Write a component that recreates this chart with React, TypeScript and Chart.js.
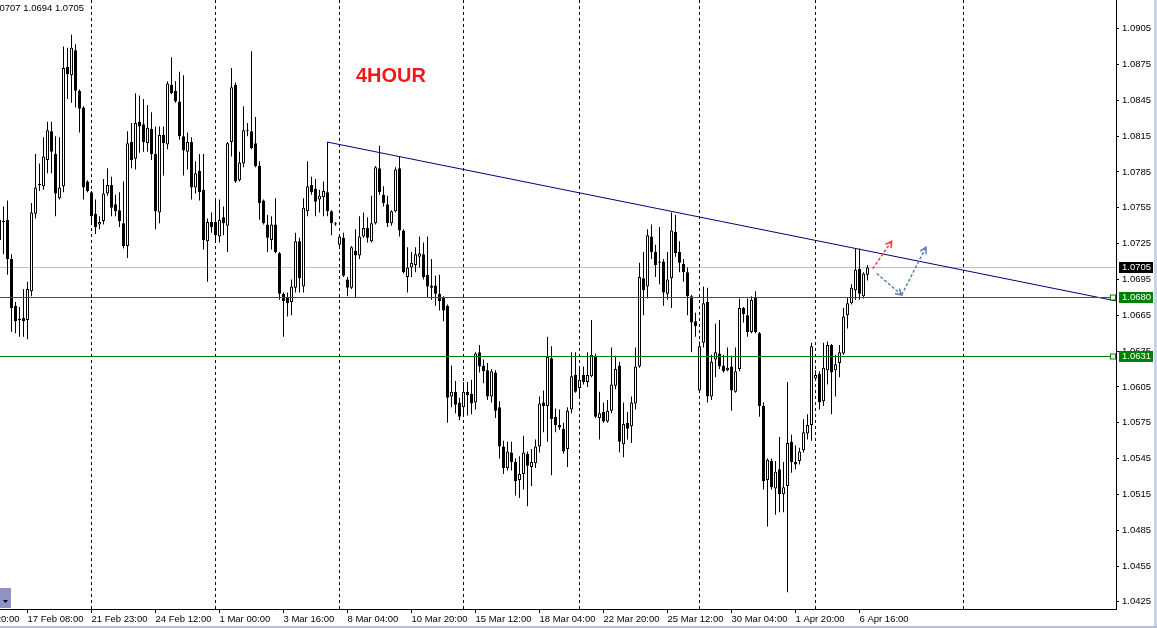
import React, { useEffect, useRef } from "react";
import { Chart, registerables } from "chart.js";
Chart.register(...registerables);

// ---- data (EURUSD H4) ----
const opens = [
  1.0745,1.0743,1.0745,1.0712,1.0673,1.0661,1.0663,1.0661,1.0685,1.0750,
  1.0774,1.0773,1.0795,1.0819,1.0800,1.0763,1.0773,1.0873,1.0866,1.0887,
  1.0853,1.0839,1.0777,1.0768,1.0750,1.0741,1.0744,1.0767,1.0774,1.0758,
  1.0753,1.0742,1.0723,1.0810,1.0796,1.0827,1.0825,1.0809,1.0821,1.0800,
  1.0751,1.0816,1.0808,1.0858,1.0853,1.0844,1.0815,1.0802,1.0810,1.0772,
  1.0786,1.0770,1.0727,1.0743,1.0743,1.0731,1.0747,1.0740,1.0810,1.0858,
  1.0778,1.0792,1.0820,1.0819,1.0809,1.0790,1.0761,1.0741,1.0728,1.0741,
  1.0717,1.0683,1.0680,1.0676,1.0688,1.0727,1.0689,1.0752,1.0774,1.0771,
  1.0762,1.0764,1.0768,1.0752,1.0741,1.0724,1.0730,1.0695,1.0688,1.0719,
  1.0715,1.0731,1.0738,1.0727,1.0742,1.0788,1.0766,1.0758,1.0742,1.0752,
  1.0788,1.0736,1.0697,1.0705,1.0707,1.0714,1.0716,1.0699,1.0690,1.0690,
  1.0683,1.0680,1.0673,1.0597,1.0601,1.0592,1.0588,1.0601,1.0599,1.0592,
  1.0634,1.0623,1.0619,1.0597,1.0617,1.0588,1.0555,1.0537,1.0550,1.0542,
  1.0527,1.0532,1.0549,1.0538,1.0541,1.0555,1.0592,1.0589,1.0629,1.0580,
  1.0573,1.0570,1.0553,1.0586,1.0615,1.0604,1.0615,1.0609,1.0614,1.0631,
  1.0579,1.0584,1.0576,1.0585,1.0606,1.0623,1.0557,1.0575,1.0572,1.0591,
  1.0622,1.0696,1.0689,1.0731,1.0718,1.0710,1.0710,1.0683,1.0696,1.0735,
  1.0718,1.0708,1.0701,1.0681,1.0660,1.0602,1.0642,1.0676,1.0597,1.0628,
  1.0633,1.0623,1.0619,1.0622,1.0601,1.0620,1.0671,1.0665,1.0651,1.0680,
  1.0650,1.0589,1.0527,1.0543,1.0520,1.0536,1.0515,1.0522,1.0559,1.0542,
  1.0543,1.0552,1.0566,1.0573,1.0612,1.0616,1.0593,1.0619,1.0640,1.0619,
  1.0625,1.0633,1.0665,1.0675,1.0686,1.0704,1.0681,1.0699,
];
const highs = [
  1.0760,1.0756,1.0761,1.0716,1.0676,1.0672,1.0687,1.0693,1.0759,1.0800,
  1.0792,1.0814,1.0827,1.0827,1.0815,1.0814,1.0890,1.0889,1.0900,1.0892,
  1.0854,1.0840,1.0778,1.0769,1.0762,1.0748,1.0779,1.0788,1.0781,1.0766,
  1.0768,1.0777,1.0819,1.0826,1.0851,1.0849,1.0846,1.0841,1.0835,1.0823,
  1.0823,1.0823,1.0861,1.0881,1.0861,1.0869,1.0866,1.0818,1.0814,1.0794,
  1.0800,1.0800,1.0746,1.0751,1.0763,1.0762,1.0756,1.0810,1.0872,1.0860,
  1.0802,1.0840,1.0826,1.0886,1.0831,1.0794,1.0762,1.0749,1.0748,1.0763,
  1.0718,1.0684,1.0684,1.0695,1.0734,1.0730,1.0763,1.0794,1.0781,1.0779,
  1.0770,1.0777,1.0810,1.0753,1.0743,1.0732,1.0734,1.0697,1.0723,1.0737,
  1.0748,1.0751,1.0747,1.0765,1.0790,1.0807,1.0773,1.0765,1.0753,1.0789,
  1.0798,1.0737,1.0722,1.0718,1.0722,1.0731,1.0726,1.0731,1.0712,1.0698,
  1.0699,1.0681,1.0674,1.0623,1.0610,1.0596,1.0609,1.0609,1.0611,1.0634,
  1.0640,1.0628,1.0625,1.0620,1.0619,1.0593,1.0560,1.0559,1.0559,1.0545,
  1.0547,1.0564,1.0551,1.0553,1.0561,1.0597,1.0602,1.0647,1.0639,1.0587,
  1.0586,1.0575,1.0588,1.0634,1.0634,1.0622,1.0622,1.0634,1.0661,1.0633,
  1.0601,1.0592,1.0594,1.0638,1.0631,1.0626,1.0592,1.0584,1.0597,1.0638,
  1.0709,1.0718,1.0737,1.0741,1.0724,1.0739,1.0712,1.0718,1.0751,1.0749,
  1.0727,1.0712,1.0705,1.0682,1.0667,1.0643,1.0689,1.0688,1.0632,1.0658,
  1.0661,1.0632,1.0638,1.0631,1.0638,1.0679,1.0672,1.0679,1.0681,1.0685,
  1.0651,1.0592,1.0545,1.0545,1.0543,1.0563,1.0542,1.0609,1.0565,1.0556,
  1.0554,1.0578,1.0582,1.0642,1.0619,1.0618,1.0642,1.0643,1.0641,1.0632,
  1.0640,1.0671,1.0680,1.0691,1.0721,1.0721,1.0701,1.0707,
];
const lows = [
  1.0716,1.0716,1.0699,1.0651,1.0650,1.0647,1.0647,1.0645,1.0681,1.0746,
  1.0769,1.0770,1.0784,1.0784,1.0748,1.0762,1.0768,1.0846,1.0843,1.0839,
  1.0818,1.0762,1.0768,1.0743,1.0733,1.0737,1.0741,1.0765,1.0748,1.0748,
  1.0739,1.0721,1.0713,1.0788,1.0787,1.0801,1.0802,1.0802,1.0795,1.0737,
  1.0742,1.0782,1.0804,1.0850,1.0843,1.0812,1.0782,1.0787,1.0762,1.0767,
  1.0761,1.0720,1.0693,1.0734,1.0727,1.0726,1.0732,1.0718,1.0798,1.0776,
  1.0777,1.0789,1.0815,1.0804,1.0789,1.0745,1.0741,1.0718,1.0720,1.0717,
  1.0678,1.0647,1.0664,1.0665,1.0684,1.0684,1.0684,1.0748,1.0766,1.0748,
  1.0751,1.0748,1.0748,1.0732,1.0740,1.0722,1.0697,1.0681,1.0687,1.0680,
  1.0712,1.0730,1.0726,1.0726,1.0741,1.0766,1.0756,1.0739,1.0740,1.0751,
  1.0731,1.0700,1.0684,1.0697,1.0701,1.0705,1.0695,1.0680,1.0678,1.0673,
  1.0669,1.0660,1.0575,1.0588,1.0583,1.0577,1.0580,1.0581,1.0582,1.0586,
  1.0617,1.0608,1.0594,1.0592,1.0579,1.0545,1.0532,1.0535,1.0535,1.0514,
  1.0512,1.0519,1.0505,1.0522,1.0537,1.0550,1.0567,1.0559,1.0531,1.0567,
  1.0569,1.0549,1.0538,1.0583,1.0600,1.0597,1.0607,1.0605,1.0613,1.0579,
  1.0561,1.0575,1.0575,1.0583,1.0603,1.0550,1.0546,1.0561,1.0558,1.0586,
  1.0621,1.0665,1.0679,1.0712,1.0697,1.0691,1.0673,1.0678,1.0671,1.0714,
  1.0701,1.0693,1.0665,1.0634,1.0647,1.0601,1.0638,1.0592,1.0594,1.0613,
  1.0620,1.0617,1.0618,1.0585,1.0600,1.0618,1.0659,1.0647,1.0650,1.0650,
  1.0580,1.0519,1.0488,1.0519,1.0498,1.0500,1.0500,1.0433,1.0533,1.0536,
  1.0540,1.0550,1.0561,1.0560,1.0610,1.0586,1.0589,1.0607,1.0582,1.0597,
  1.0613,1.0632,1.0654,1.0674,1.0678,1.0678,1.0679,1.0694,
];
const closes = [
  1.0728,1.0744,1.0712,1.0671,1.0660,1.0662,1.0660,1.0687,1.0751,1.0772,
  1.0775,1.0798,1.0820,1.0802,1.0767,1.0772,1.0872,1.0867,1.0889,1.0853,
  1.0838,1.0772,1.0769,1.0748,1.0739,1.0743,1.0767,1.0774,1.0755,1.0752,
  1.0744,1.0723,1.0809,1.0795,1.0826,1.0823,1.0810,1.0822,1.0800,1.0752,
  1.0816,1.0809,1.0859,1.0851,1.0844,1.0815,1.0803,1.0810,1.0772,1.0784,
  1.0768,1.0728,1.0743,1.0739,1.0732,1.0745,1.0742,1.0809,1.0856,1.0777,
  1.0793,1.0820,1.0819,1.0805,1.0790,1.0759,1.0742,1.0730,1.0741,1.0718,
  1.0683,1.0677,1.0675,1.0689,1.0727,1.0696,1.0755,1.0773,1.0768,1.0760,
  1.0765,1.0769,1.0752,1.0742,1.0742,1.0731,1.0698,1.0688,1.0722,1.0715,
  1.0731,1.0738,1.0730,1.0742,1.0789,1.0768,1.0759,1.0742,1.0752,1.0787,
  1.0736,1.0701,1.0705,1.0709,1.0716,1.0717,1.0697,1.0689,1.0688,1.0683,
  1.0677,1.0669,1.0596,1.0601,1.0590,1.0580,1.0601,1.0598,1.0591,1.0633,
  1.0622,1.0618,1.0597,1.0618,1.0585,1.0555,1.0537,1.0551,1.0542,1.0526,
  1.0532,1.0550,1.0539,1.0542,1.0555,1.0591,1.0589,1.0630,1.0578,1.0573,
  1.0571,1.0551,1.0585,1.0614,1.0601,1.0611,1.0609,1.0615,1.0632,1.0580,
  1.0583,1.0576,1.0585,1.0607,1.0620,1.0559,1.0574,1.0570,1.0592,1.0622,
  1.0697,1.0686,1.0732,1.0718,1.0707,1.0709,1.0684,1.0695,1.0736,1.0717,
  1.0709,1.0701,1.0681,1.0659,1.0656,1.0639,1.0675,1.0597,1.0626,1.0634,
  1.0622,1.0618,1.0621,1.0602,1.0618,1.0671,1.0666,1.0651,1.0678,1.0651,
  1.0589,1.0526,1.0544,1.0521,1.0534,1.0515,1.0521,1.0558,1.0542,1.0540,
  1.0551,1.0567,1.0573,1.0639,1.0615,1.0592,1.0621,1.0640,1.0617,1.0624,
  1.0634,1.0664,1.0675,1.0688,1.0703,1.0683,1.0700,1.0705,
];

const timeTickIdx = [7, 23, 39, 55, 71, 87, 103, 119, 135, 151, 167, 183, 199, 215];
const timeTickLabels = [
  "17 Feb 08:00", "21 Feb 23:00", "24 Feb 12:00", "1 Mar 00:00", "3 Mar 16:00",
  "8 Mar 04:00", "10 Mar 20:00", "15 Mar 12:00", "18 Mar 04:00", "22 Mar 20:00",
  "25 Mar 12:00", "30 Mar 04:00", "1 Apr 20:00", "6 Apr 16:00",
];
const partialTickIdx = -9;
const partialTickLabel = "15 Feb 20:00";
const priceTicks = [
  1.0425, 1.0455, 1.0485, 1.0515, 1.0545, 1.0575, 1.0605, 1.0635, 1.0665,
  1.0695, 1.0725, 1.0755, 1.0785, 1.0815, 1.0845, 1.0875, 1.0905,
];
const separatorIdx = [23, 54, 85, 116, 145, 175, 204, 241];
const bidPrice = 1.0705;
const levelPrices = [1.068, 1.0631];
const trendPoints = [{ x: 82, y: 1.081 }, { x: 279.1, y: 1.0677 }];
const redArrow = [[218.3, 1.0704], [223.05, 1.0727]];
const blueArrow = [[219.3, 1.07], [225.55, 1.0682], [231.6, 1.0722]];
const lastBarText = "1.0707 1.0694 1.0705";
const chartTitle = "4HOUR";

const FONT = "'Liberation Sans', Arial, sans-serif";
Chart.defaults.font.family = FONT;

function drawArrow(ctx: CanvasRenderingContext2D, pts: number[][], color: string) {
  ctx.save();
  ctx.strokeStyle = color;
  ctx.lineWidth = 1.5;
  for (let i = 0; i < pts.length - 1; i++) {
    const [x1, y1] = pts[i];
    const [x2, y2] = pts[i + 1];
    ctx.setLineDash([3, 2]);
    ctx.beginPath();
    ctx.moveTo(x1, y1);
    ctx.lineTo(x2, y2);
    ctx.stroke();
    ctx.setLineDash([]);
    const ang = Math.atan2(y2 - y1, x2 - x1);
    const len = 7;
    ctx.beginPath();
    ctx.moveTo(x2 - len * Math.cos(ang - 0.5), y2 - len * Math.sin(ang - 0.5));
    ctx.lineTo(x2, y2);
    ctx.lineTo(x2 - len * Math.cos(ang + 0.5), y2 - len * Math.sin(ang + 0.5));
    ctx.stroke();
  }
  ctx.restore();
}

const overlay = {
  id: "mtOverlay",
  beforeDatasetsDraw(chart: any) {
    const { ctx, chartArea: a, scales } = chart;
    const x = scales.x, y = scales.y;
    ctx.save();
    const yb = Math.round(y.getPixelForValue(bidPrice)) + 0.5;
    ctx.strokeStyle = "#c0c0c0";
    ctx.lineWidth = 1;
    ctx.beginPath();
    ctx.moveTo(a.left, yb);
    ctx.lineTo(a.right, yb);
    ctx.stroke();
    ctx.strokeStyle = "#000";
    ctx.setLineDash([3, 3]);
    separatorIdx.forEach((k) => {
      const px = Math.round(x.getPixelForValue(k) - 0.5) + 0.5;
      ctx.beginPath();
      ctx.moveTo(px, a.top);
      ctx.lineTo(px, a.bottom);
      ctx.stroke();
    });
    ctx.restore();
  },
  afterDatasetsDraw(chart: any) {
    const { ctx, chartArea: a, scales } = chart;
    const x = scales.x, y = scales.y;
    ctx.save();
    ctx.strokeStyle = "#008000";
    ctx.lineWidth = 1;
    levelPrices.forEach((p) => {
      const py = Math.round(y.getPixelForValue(p)) + 0.5;
      ctx.beginPath();
      ctx.moveTo(a.left, py);
      ctx.lineTo(a.right, py);
      ctx.stroke();
      ctx.fillStyle = "#fff";
      ctx.fillRect(a.right - 5, py - 2.5, 4, 5);
      ctx.strokeRect(a.right - 5.5, py - 2.5, 5, 5);
    });
    const toPx = (pts: number[][]) => pts.map(([k, p]) => [x.getPixelForValue(k), y.getPixelForValue(p)]);
    drawArrow(ctx, toPx(redArrow), "#f03c3c");
    drawArrow(ctx, toPx(blueArrow), "#5a7fb6");
    ctx.fillStyle = "#f21818";
    ctx.font = `bold 20px ${FONT}`;
    ctx.textAlign = "left";
    ctx.textBaseline = "alphabetic";
    ctx.fillText(chartTitle, 356, 82);
    ctx.fillStyle = "#000";
    ctx.font = `9.5px ${FONT}`;
    ctx.textAlign = "right";
    ctx.fillText(lastBarText, 84, 11);
    ctx.restore();
  },
  afterDraw(chart: any) {
    const { ctx, chartArea: a, scales } = chart;
    const x = scales.x, y = scales.y;
    ctx.save();
    ctx.font = `9.5px ${FONT}`;
    ctx.textBaseline = "middle";
    ctx.textAlign = "left";
    const box = (p: number, bg: string) => {
      const py = Math.round(y.getPixelForValue(p));
      ctx.fillStyle = bg;
      ctx.fillRect(a.right + 3, py - 5, 34, 11);
      ctx.fillStyle = "#fff";
      ctx.fillText(p.toFixed(4), a.right + 6, py + 0.5);
    };
    box(bidPrice, "#000");
    levelPrices.forEach((p) => box(p, "#008000"));
    // partially visible time label on the left edge
    ctx.fillStyle = "#000";
    const lh = 9.5 * 1.2;
    ctx.fillText(partialTickLabel, x.getPixelForValue(partialTickIdx), a.bottom + 5 + lh / 2);
    // window frame bits
    ctx.fillStyle = "#c8d4ea";
    ctx.fillRect(1154, 0, 3, 628);
    ctx.fillStyle = "#b8c2d6";
    ctx.fillRect(0, 626, 1157, 2);
    ctx.fillStyle = "#8e92c6";
    ctx.fillRect(0, 588, 11, 20);
    ctx.fillStyle = "#000";
    ctx.beginPath();
    ctx.moveTo(3, 600);
    ctx.lineTo(8, 600);
    ctx.lineTo(5.5, 603);
    ctx.closePath();
    ctx.fill();
    ctx.restore();
  },
};

export default function App() {
  const ref = useRef<HTMLCanvasElement>(null);
  useEffect(() => {
    document.body.style.margin = "0";
    const canvas = ref.current;
    if (!canvas) return;
    const idx = opens.map((_, i) => i);
    const bodies = idx.map((i) => ({ x: i, y: [opens[i], closes[i]] }));
    const wicks = idx.map((i) => ({ x: i, y: [lows[i], highs[i]] }));
    const bodyFill = idx.map((i) => (closes[i] >= opens[i] ? "#ffffff" : "#000000"));
    const labelMap: Record<number, string> = {};
    timeTickIdx.forEach((k, j) => (labelMap[k] = timeTickLabels[j]));

    const chart = new Chart(canvas, {
      type: "bar",
      data: {
        datasets: [
          {
            type: "line",
            label: "trend",
            data: trendPoints,
            borderColor: "#000080",
            borderWidth: 1,
            pointRadius: 0,
            fill: false,
            order: 1,
          } as any,
          {
            type: "bar",
            label: "body",
            data: bodies,
            backgroundColor: bodyFill,
            borderColor: "#000",
            borderWidth: 1,
            borderSkipped: false,
            grouped: false,
            categoryPercentage: 1,
            barPercentage: 0.75,
            maxBarThickness: 3,
            minBarLength: 1,
            inflateAmount: 0,
            order: 2,
          } as any,
          {
            type: "bar",
            label: "wick",
            data: wicks,
            backgroundColor: "#000",
            borderWidth: 0,
            grouped: false,
            categoryPercentage: 1,
            barPercentage: 1,
            maxBarThickness: 1,
            inflateAmount: 0,
            order: 3,
          } as any,
        ],
      },
      options: {
        responsive: false,
        maintainAspectRatio: false,
        animation: false,
        layout: { padding: 0 },
        plugins: {
          legend: { display: false },
          tooltip: { enabled: false },
          title: { display: false },
        },
        scales: {
          x: {
            type: "linear",
            position: "bottom",
            min: 0.125,
            max: 279.125,
            offset: false,
            afterBuildTicks: (s: any) => {
              s.ticks = timeTickIdx.map((v) => ({ value: v }));
            },
            afterFit: (s: any) => {
              s.height = 19;
              s.paddingLeft = 0;
              s.paddingRight = 0;
              s.paddingTop = 0;
              s.paddingBottom = 0;
            },
            ticks: {
              autoSkip: false,
              maxRotation: 0,
              minRotation: 0,
              align: "start",
              padding: 1,
              color: "#000",
              font: { size: 9.5 },
              callback: (v: any) => labelMap[Math.round(Number(v))] ?? "",
            },
            grid: { drawOnChartArea: false, drawTicks: true, tickLength: 4, color: "#000", offset: false },
            border: { display: true, color: "#000", width: 1 },
          },
          y: {
            type: "linear",
            position: "right",
            min: 1.0419,
            max: 1.0929,
            afterBuildTicks: (s: any) => {
              s.ticks = priceTicks.map((v) => ({ value: v }));
            },
            afterFit: (s: any) => {
              s.width = 41;
              s.paddingLeft = 0;
              s.paddingRight = 0;
              s.paddingTop = 0;
              s.paddingBottom = 0;
            },
            ticks: {
              autoSkip: false,
              padding: 3,
              color: "#000",
              font: { size: 9.5 },
              callback: (v: any) => Number(v).toFixed(4),
            },
            grid: { drawOnChartArea: false, drawTicks: true, tickLength: 3, color: "#000" },
            border: { display: true, color: "#000", width: 1 },
          },
        },
      } as any,
      plugins: [overlay],
    });
    return () => chart.destroy();
  }, []);
  return (
    <div style={{ width: 1157, height: 628, background: "#fff", overflow: "hidden" }}>
      <canvas ref={ref} width={1157} height={628} style={{ display: "block", width: 1157, height: 628 }} />
    </div>
  );
}
